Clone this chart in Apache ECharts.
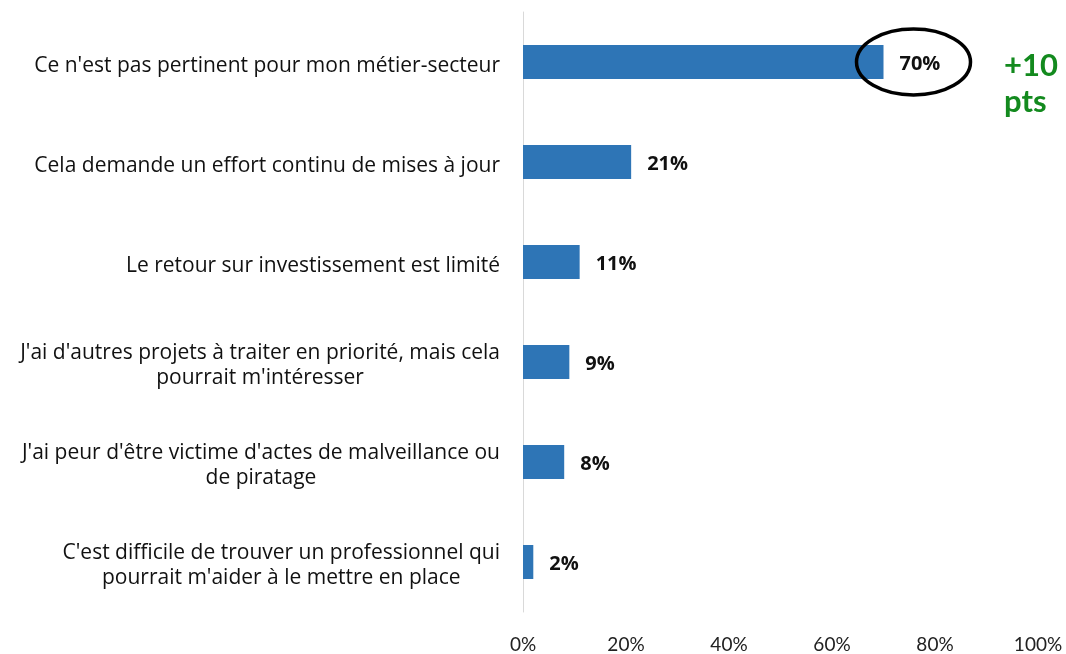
<!DOCTYPE html>
<html>
<head>
<meta charset="utf-8">
<script src="https://cdn.jsdelivr.net/npm/echarts@6/dist/echarts.min.js"></script>
<style>
  html, body { margin: 0; padding: 0; background: #fff; }
  #chart { width: 1066px; height: 654px; }
</style>
</head>
<body>
<div id="chart"></div>
<script>
// catégories (de haut en bas)
var categories = [
    "Ce n'est pas pertinent pour mon métier-secteur",
    "Cela demande un effort continu de mises à jour",
    "Le retour sur investissement est limité",
    "J'ai d'autres projets à traiter en priorité, mais cela\npourrait m'intéresser",
    "J'ai peur d'être victime d'actes de malveillance ou\nde piratage",
    "C'est difficile de trouver un professionnel qui\npourrait m'aider à le mettre en place"
];
var values = [70, 21, 11, 9, 8, 2];
var xTicks = [0, 20, 40, 60, 80, 100];
var highlightText = ['+10', 'pts'];

var FONT = '"Open Sans", Lato, sans-serif';
var TICK_FONT = 'Lato, "Open Sans", sans-serif';

var myChart = echarts.init(document.getElementById('chart'));

var option = {
    animation: false,
    grid: {
        left: 523,
        right: 28,
        top: 12,
        bottom: 40
    },
    xAxis: {
        type: 'value',
        min: xTicks[0],
        max: xTicks[xTicks.length - 1],
        interval: 20,
        splitLine: { show: false },
        axisLine: { show: false },
        axisTick: { show: false },
        axisLabel: {
            margin: 23,
            fontFamily: TICK_FONT,
            fontSize: 19,
            color: '#222',
            formatter: function (v) { return v + '%'; }
        }
    },
    yAxis: {
        type: 'category',
        inverse: true,
        data: categories,
        axisLine: { show: true, lineStyle: { color: '#d9d9d9', width: 1 } },
        axisTick: { show: false },
        axisLabel: {
            margin: 23,
            align: 'right',
            padding: [8, 0, 0, 0],
            formatter: function (v) {
                return v.split('\n').map(function (l) { return '{c|' + l + '}'; }).join('\n');
            },
            rich: {
                c: {
                    align: 'center',
                    fontFamily: FONT,
                    fontSize: 21,
                    lineHeight: 25,
                    color: '#111'
                }
            }
        }
    },
    series: [{
        type: 'bar',
        data: values,
        barWidth: 34,
        itemStyle: { color: '#2E75B6' },
        label: {
            show: true,
            position: 'right',
            distance: 16,
            offset: [0, 2],
            fontFamily: FONT,
            fontSize: 20,
            fontWeight: 'bold',
            color: '#111',
            formatter: '{c}%'
        }
    }]
};

myChart.setOption(option);

// annotation : ellipse autour de la première barre + "+10 pts"
var end = myChart.convertToPixel({ seriesIndex: 0 }, [values[0], 0]);
myChart.setOption({
    graphic: [{
        type: 'ellipse',
        shape: { cx: end[0] + 30, cy: end[1], rx: 57, ry: 33 },
        style: { fill: 'none', stroke: '#000', lineWidth: 3.5 },
        z: 100
    }, {
        type: 'text',
        x: 1004,
        y: end[1] + 22,
        style: {
            text: highlightText.join('\n'),
            fontFamily: TICK_FONT,
            fontSize: 31,
            fontWeight: 'bold',
            lineHeight: 36,
            fill: '#138A1E',
            align: 'left',
            verticalAlign: 'middle'
        }
    }]
});
</script>
</body>
</html>
